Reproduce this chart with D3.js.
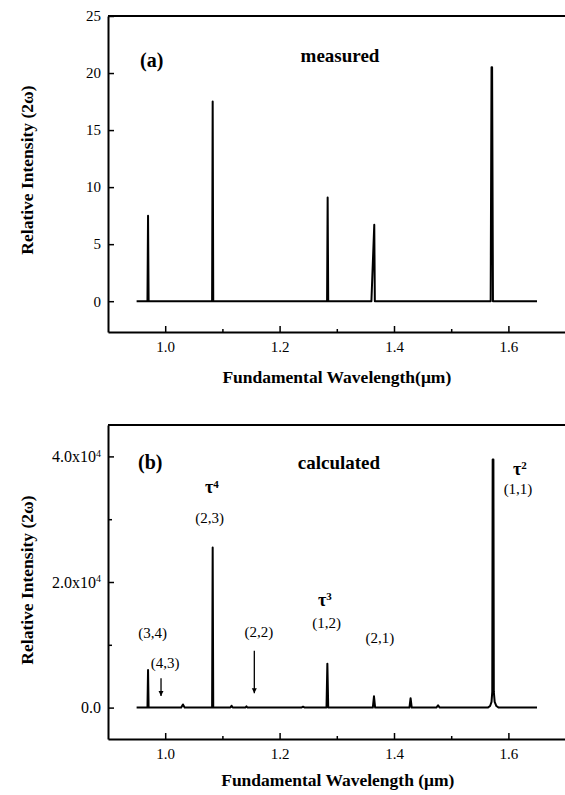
<!DOCTYPE html>
<html>
<head>
<meta charset="utf-8">
<script src="https://cdn.jsdelivr.net/npm/d3@7"></script>
<style>
  body { margin: 0; background: #fff; }
  text { font-family: "Liberation Serif", "Times New Roman", serif; fill: #000; }
</style>
</head>
<body>
<script>
// ---- data ----
// (a) measured SH spectrum
var measWl  = [0.950, 0.969, 0.970, 0.971, 1.082, 1.083, 1.084, 1.283, 1.284, 1.285,
               1.3605, 1.3655, 1.3665, 1.569, 1.5705, 1.5715, 1.573, 1.650];
var measVal = [0, 0, 7.5, 0, 0, 17.5, 0, 0, 9.1, 0,
               0, 6.7, 0, 0, 20.5, 20.5, 0, 0];

// (b) calculated SH spectrum
var calcWl  = [0.950, 0.969, 0.970, 0.971, 1.028, 1.031, 1.034, 1.082, 1.083, 1.084,
               1.114, 1.116, 1.118, 1.140, 1.142, 1.144, 1.238, 1.241, 1.244,
               1.282, 1.2835, 1.285, 1.363, 1.365, 1.367, 1.427, 1.429, 1.431,
               1.474, 1.477, 1.480, 1.564, 1.568, 1.5705, 1.5718, 1.5725, 1.5738,
               1.5745, 1.576, 1.579, 1.583, 1.650];
var calcVal = [0, 0, 6000, 0, 0, 500, 0, 0, 25500, 0,
               0, 300, 0, 0, 200, 0, 0, 150, 0,
               0, 7000, 0, 0, 1800, 0, 0, 1500, 0,
               0, 350, 0, 0, 250, 900, 2500, 39500, 39500,
               2500, 900, 250, 0, 0];

var xTicks  = [1.0, 1.2, 1.4, 1.6];
var xMinor  = [1.1, 1.3, 1.5];
var yTicksA = [0, 5, 10, 15, 20, 25];
var yTicksB = [0, 20000, 40000];
var yMinorB = [10000, 30000];

// annotations in panel (b)
var pairText = ["(3,4)", "(4,3)", "(2,2)", "(2,3)", "(1,2)", "(2,1)", "(1,1)"];
var pairWl   = [0.978, 0.9997, 1.1636, 1.0778, 1.2823, 1.3755, 1.6168];
var pairVal  = [11080, 6300, 11240, 29390, 12680, 10290, 34010];
var tauPow   = ["4", "3", "2"];
var tauWl    = [1.0696, 1.2671, 1.6080];
var tauVal   = [34140, 16180, 37040];
var arrowWl   = [0.9927, 1.1558];
var arrowFrom = [4670, 9060];
var arrowTo   = [1850, 2280];

var w = 565, h = 795;
var svg = d3.select("body").append("svg")
  .attr("width", w).attr("height", h);

svg.append("defs").append("marker")
  .attr("id", "arrow")
  .attr("viewBox", "0 0 10 10")
  .attr("refX", 10).attr("refY", 5)
  .attr("markerWidth", 5).attr("markerHeight", 6)
  .attr("markerUnits", "userSpaceOnUse")
  .attr("orient", "auto")
  .append("path").attr("d", "M0,0 L10,5 L0,10 Z").attr("fill", "#000");

var left = 108, right = 565.6;
var x = d3.scaleLinear().domain([0.9, 1.7]).range([left, right]);

function frame(y, top, bottom, ticks, minor, fmt) {
  var g = svg.append("g");
  // bottom axis, ticks pointing inwards
  g.append("g").attr("transform", "translate(0," + bottom + ")")
    .call(d3.axisBottom(x).tickValues(xTicks).tickSize(-6).tickSizeOuter(0)
      .tickPadding(9).tickFormat(d3.format(".1f")));
  g.append("g").attr("transform", "translate(0," + bottom + ")")
    .call(d3.axisBottom(x).tickValues(xMinor).tickSize(-3).tickSizeOuter(0).tickFormat(""))
    .select(".domain").remove();
  // left axis
  var gy = g.append("g").attr("transform", "translate(" + left + ",0)")
    .call(d3.axisLeft(y).tickValues(ticks).tickSize(-6).tickSizeOuter(0)
      .tickPadding(7).tickFormat(fmt));
  if (minor) {
    g.append("g").attr("transform", "translate(" + left + ",0)")
      .call(d3.axisLeft(y).tickValues(minor).tickSize(-4).tickSizeOuter(0).tickFormat(""))
      .select(".domain").remove();
  }
  // top border (right side is cut off in the figure)
  g.append("line").attr("x1", left).attr("x2", w).attr("y1", top).attr("y2", top)
    .attr("stroke", "#000").attr("stroke-width", 2);
  g.selectAll(".domain").attr("stroke-width", 2);
  g.selectAll(".tick line").attr("stroke-width", 1.5);
  g.selectAll(".tick text").style("font-size", "15px").style("font-family", null);
  return gy;
}

function spectrum(y, wl, val) {
  var line = d3.line().x(function(d) { return x(d[0]); }).y(function(d) { return y(d[1]); });
  svg.append("path").datum(d3.zip(wl, val))
    .attr("d", line)
    .attr("fill", "none").attr("stroke", "#000")
    .attr("stroke-width", 2).attr("stroke-linejoin", "round");
}

function yTitle(cy) {
  svg.append("text")
    .attr("transform", "translate(33," + cy + ") rotate(-90)")
    .attr("text-anchor", "middle")
    .style("font-size", "17.5px").style("font-weight", "bold")
    .text("Relative Intensity (2\u03c9)");
}

// ---------- panel (a) ----------
var yA = d3.scaleLinear().domain([-2.7, 25]).range([332, 16]);
frame(yA, 16, 332, yTicksA, null, d3.format("d"));
spectrum(yA, measWl, measVal);
yTitle(170);
svg.append("text").attr("x", (left + right) / 2).attr("y", 383)
  .attr("text-anchor", "middle")
  .style("font-size", "17.5px").style("font-weight", "bold")
  .text("Fundamental Wavelength(\u03bcm)");
svg.append("text").attr("x", x(0.956)).attr("y", yA(20.5))
  .style("font-size", "20px").style("font-weight", "bold").text("(a)");
svg.append("text").attr("x", x(1.3056)).attr("y", yA(20.97))
  .attr("text-anchor", "middle")
  .style("font-size", "19px").style("font-weight", "bold").text("measured");

// ---------- panel (b) ----------
var yB = d3.scaleLinear().domain([-5000, 45000]).range([739, 425]);
var gyB = frame(yB, 425, 739, yTicksB, yMinorB, function(d) { return d; });
gyB.selectAll(".tick text").style("font-size", "16px").each(function(d) {
  var t = d3.select(this).text("");
  if (d === 0) { t.text("0.0"); return; }
  t.append("tspan").text((d / 10000).toFixed(1) + "x10");
  t.append("tspan").attr("dy", "-0.55em").style("font-size", "10px").text("4");
});
spectrum(yB, calcWl, calcVal);
yTitle(580);
svg.append("text").attr("x", (left + right) / 2 + 1).attr("y", 786)
  .attr("text-anchor", "middle")
  .style("font-size", "17.5px").style("font-weight", "bold")
  .text("Fundamental Wavelength (\u03bcm)");
svg.append("text").attr("x", x(0.9524)).attr("y", yB(37990))
  .style("font-size", "20px").style("font-weight", "bold").text("(b)");
svg.append("text").attr("x", x(1.3038)).attr("y", yB(38000))
  .attr("text-anchor", "middle")
  .style("font-size", "19px").style("font-weight", "bold").text("calculated");

svg.selectAll(".pair").data(d3.range(pairText.length)).enter().append("text")
  .attr("class", "pair")
  .attr("x", function(i) { return x(pairWl[i]); })
  .attr("y", function(i) { return yB(pairVal[i]); })
  .attr("text-anchor", "middle")
  .style("font-size", "15px")
  .text(function(i) { return pairText[i]; });

svg.selectAll(".tau").data(d3.range(tauPow.length)).enter().append("text")
  .attr("class", "tau")
  .attr("x", function(i) { return x(tauWl[i]); })
  .attr("y", function(i) { return yB(tauVal[i]); })
  .style("font-size", "18px").style("font-weight", "bold")
  .each(function(i) {
    var t = d3.select(this);
    t.append("tspan").text("\u03c4");
    t.append("tspan").attr("dy", "-0.5em").style("font-size", "11px").text(tauPow[i]);
  });

svg.selectAll(".arr").data(d3.range(arrowWl.length)).enter().append("line")
  .attr("class", "arr")
  .attr("x1", function(i) { return x(arrowWl[i]); })
  .attr("x2", function(i) { return x(arrowWl[i]); })
  .attr("y1", function(i) { return yB(arrowFrom[i]); })
  .attr("y2", function(i) { return yB(arrowTo[i]); })
  .attr("stroke", "#000").attr("stroke-width", 1.3)
  .attr("marker-end", "url(#arrow)");
</script>
</body>
</html>
